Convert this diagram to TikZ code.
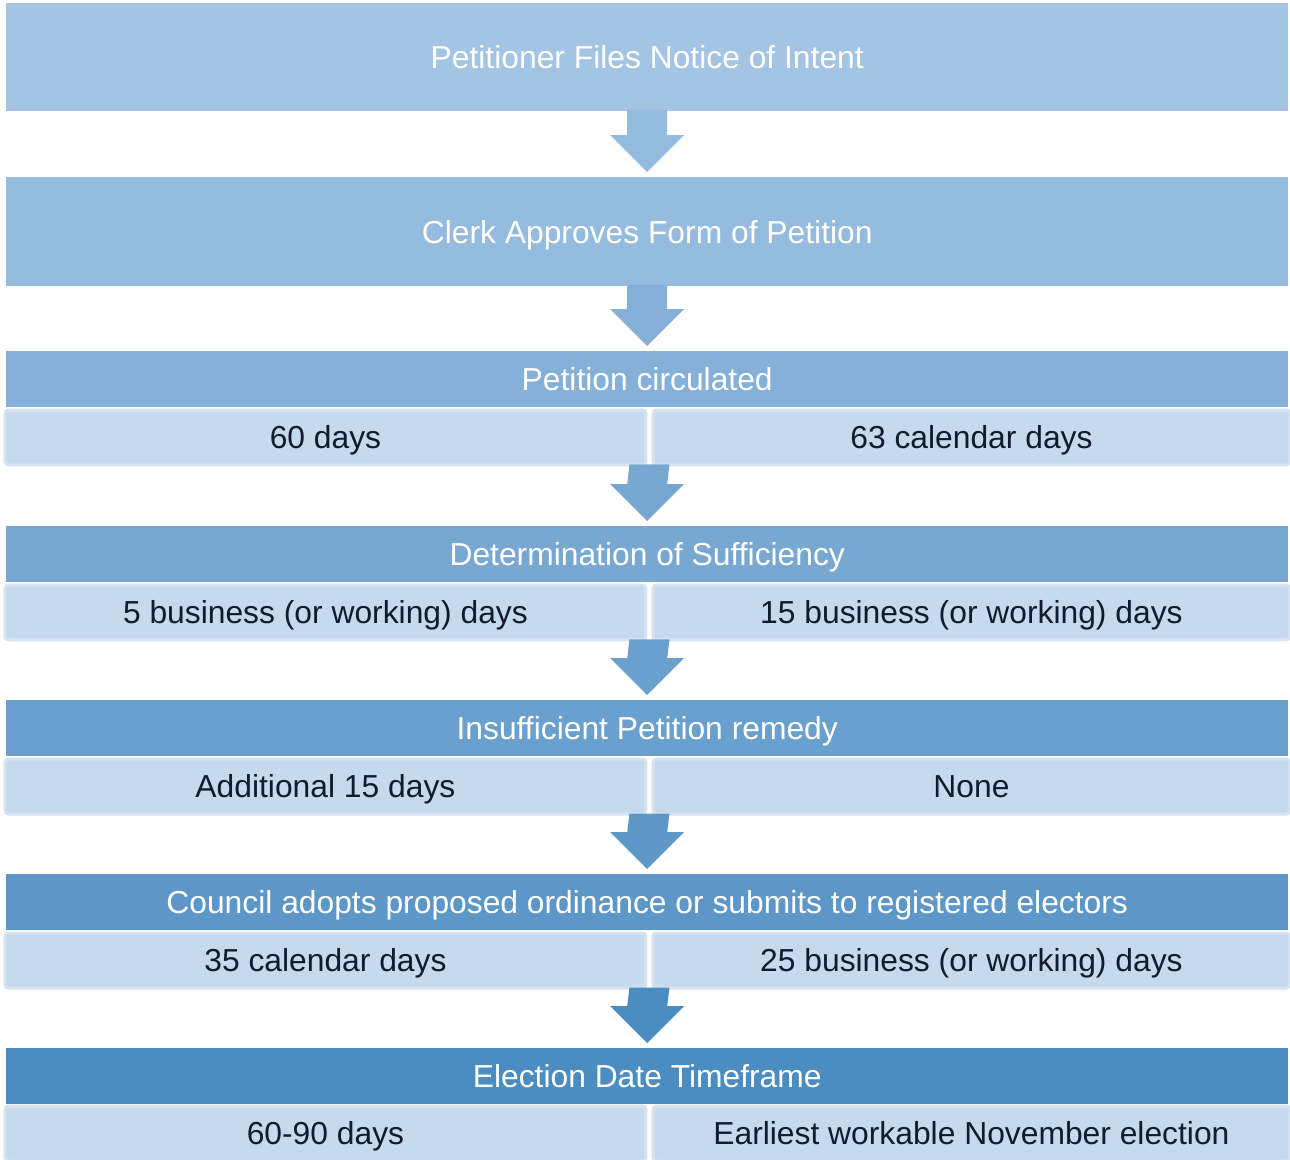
\documentclass[tikz,border=0pt]{standalone}
\usepackage{fontspec}
\setmainfont{Liberation Sans}
\usepackage{tikz}
\usetikzlibrary{calc}

\definecolor{stepA}{HTML}{A3C4E3}
\definecolor{stepB}{HTML}{95BBDF}
\definecolor{stepC}{HTML}{85B0D7}
\definecolor{stepD}{HTML}{78A8D2}
\definecolor{stepE}{HTML}{6AA0CD}
\definecolor{stepF}{HTML}{5C97C7}
\definecolor{stepG}{HTML}{4B8DC0}
\definecolor{cellfill}{HTML}{C7D9EC}
\definecolor{cellline}{HTML}{D6E3F1}
\definecolor{celltext}{HTML}{0F1B30}

\tikzset{
  headbox/.style={fill=#1, text=white, inner sep=0pt, anchor=north west,
    minimum width=25.64cm, minimum height=1.12cm,
    text height=15pt, text depth=2pt,
    font=\fontsize{18.1}{22}\selectfont},
  cellbox/.style={fill=cellfill, draw=cellline, line width=0.06cm,
    rounded corners=2pt, text=celltext, inner sep=0pt, anchor=north west,
    minimum height=1.1cm, text height=15pt, text depth=2pt,
    font=\fontsize{18.1}{22}\selectfont},
}

% block arrow from one box down to the next
\newcommand{\stepdown}[3]{%
  \fill[#3] ($(#1)+(-20,-2)$) -- ($(#1)+(20,-2)$) -- ($(#2)+(20,-42)$)
    -- ($(#2)+(37,-42)$) -- ($(#2)+(0,-5)$) -- ($(#2)+(-37,-42)$)
    -- ($(#2)+(-20,-42)$) -- cycle;}

\begin{document}
\begin{tikzpicture}[x=0.02cm, y=-0.02cm]

\useasboundingbox (0,0) rectangle (1290,1159);

    % top two boxes
    \node[headbox=stepA, minimum height=2.16cm] (notice) at (6,3) {Petitioner Files Notice of Intent};
    \node[headbox=stepB, minimum height=2.18cm] (clerk) at (6,177) {Clerk Approves Form of Petition};

    % circulation
    \node[headbox=stepC] (circ) at (6,351) {Petition circulated};
    \node[cellbox, minimum width=12.82cm] (circL) at (3.5,408.5) {60 days};
    \node[cellbox, minimum width=12.74cm] (circR) at (651.5,408.5) {63 calendar days};

    % sufficiency
    \node[headbox=stepD] (suff) at (6,526) {Determination of Sufficiency};
    \node[cellbox, minimum width=12.82cm] (suffL) at (3.5,583.5) {5 business (or working) days};
    \node[cellbox, minimum width=12.74cm] (suffR) at (651.5,583.5) {15 business (or working) days};

    % remedy
    \node[headbox=stepE] (remedy) at (6,700) {Insufficient Petition remedy};
    \node[cellbox, minimum width=12.82cm] (remedyL) at (3.5,757.5) {Additional 15 days};
    \node[cellbox, minimum width=12.74cm] (remedyR) at (651.5,757.5) {None};

    % council
    \node[headbox=stepF] (council) at (6,874) {Council adopts proposed ordinance or submits to registered electors};
    \node[cellbox, minimum width=12.82cm] (councilL) at (3.5,931.5) {35 calendar days};
    \node[cellbox, minimum width=12.74cm] (councilR) at (651.5,931.5) {25 business (or working) days};

    % election
    \node[headbox=stepG] (elect) at (6,1048) {Election Date Timeframe};
    \node[cellbox, minimum width=12.82cm] (electL) at (3.5,1104.5) {60-90 days};
    \node[cellbox, minimum width=12.74cm] (electR) at (651.5,1104.5) {Earliest workable November election};

    % arrow starts under the split rows
    \coordinate (circB) at ($(circL.south east)!0.5!(circR.south west)$);
    \coordinate (suffB) at ($(suffL.south east)!0.5!(suffR.south west)$);
    \coordinate (remedyB) at ($(remedyL.south east)!0.5!(remedyR.south west)$);
    \coordinate (councilB) at ($(councilL.south east)!0.5!(councilR.south west)$);

    % arrows
    \stepdown{notice.south}{clerk.north}{stepB}
    \stepdown{clerk.south}{circ.north}{stepC}
    \stepdown{circB}{suff.north}{stepD}
    \stepdown{suffB}{remedy.north}{stepE}
    \stepdown{remedyB}{council.north}{stepF}
    \stepdown{councilB}{elect.north}{stepG}

\end{tikzpicture}
\end{document}
